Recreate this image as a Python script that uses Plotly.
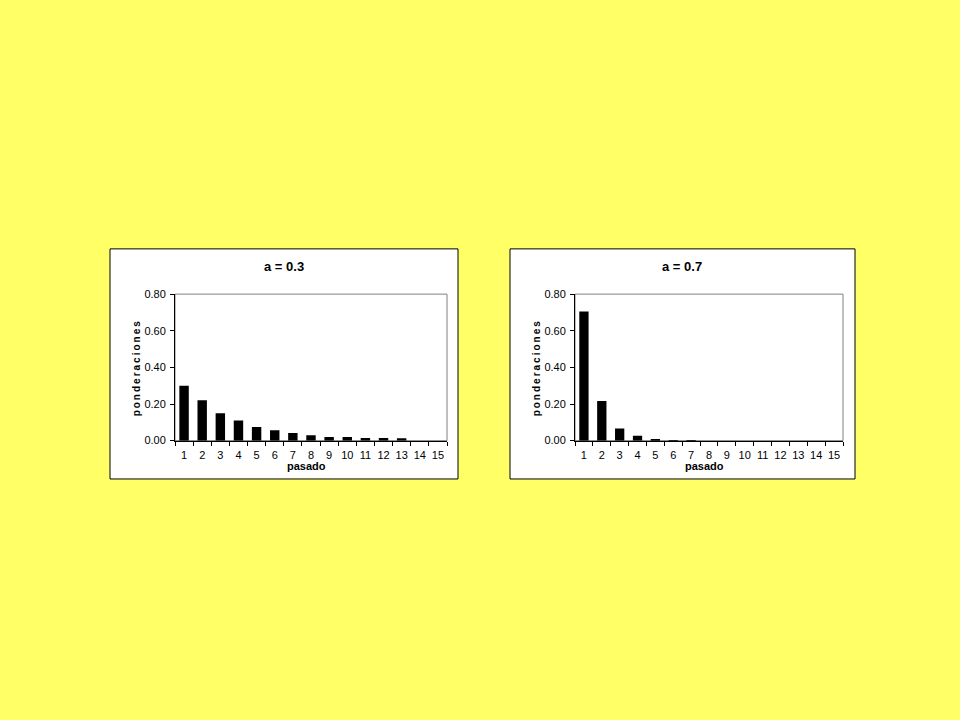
import plotly.graph_objects as go

categories = [str(i) for i in range(1, 16)]
weights_a03 = [0.30, 0.22, 0.15, 0.11, 0.075, 0.057, 0.042, 0.030, 0.020, 0.020, 0.014, 0.014, 0.013, 0.0, 0.0]
weights_a07 = [0.705, 0.216, 0.066, 0.026, 0.006, 0.002, 0.0005, 0.0, 0.0, 0.0, 0.0, 0.0, 0.0, 0.0, 0.0]
titles = ["a = 0.3", "a = 0.7"]
y_ticks = [0.0, 0.2, 0.4, 0.6, 0.8]
x_title = "pasado"
y_title = "ponderaciones"

W, H = 960, 720
def px(x): return x / W
def py(y): return 1 - y / H

FONT = "Liberation Sans, Arial, sans-serif"

fig = go.Figure()

panels = [
    dict(series=weights_a03, title=titles[0], box=(110, 247, 458, 481), plot=(175, 293, 447, 442)),
    dict(series=weights_a07, title=titles[1], box=(510, 247, 855, 481), plot=(575, 293, 843, 442)),
]

shapes = []
annotations = []
for i, p in enumerate(panels):
    xa = "x" if i == 0 else "x2"
    ya = "y" if i == 0 else "y2"
    fig.add_trace(go.Bar(x=categories, y=p["series"], xaxis=xa, yaxis=ya,
                         marker=dict(color="black", line=dict(width=0)),
                         width=0.52, showlegend=False, hoverinfo="x+y"))
    bx0, by0, bx1, by1 = p["box"]
    x0, y0, x1, y1 = p["plot"]
    shapes.append(dict(type="rect", xref="paper", yref="paper",
                       x0=px(bx0), x1=px(bx1), y0=py(by1), y1=py(by0),
                       fillcolor="white", line=dict(color="black", width=1), layer="below"))
    shapes.append(dict(type="rect", xref="paper", yref="paper",
                       x0=px(x0), x1=px(x1), y0=py(y1), y1=py(y0),
                       fillcolor="rgba(0,0,0,0)", line=dict(color="#808080", width=1), layer="below"))
    axsuffix = "" if i == 0 else "2"
    fig.update_layout(**{
        "xaxis" + axsuffix: dict(domain=[px(x0), px(x1)], type="category", anchor=ya,
                                 tickson="boundaries", ticks="outside", ticklen=4, tickcolor="black",
                                 tickangle=0, ticklabelstandoff=4,
                                 showline=True, linecolor="black", linewidth=1, showgrid=False,
                                 tickfont=dict(family=FONT, size=11, color="black"), zeroline=False,
                                 fixedrange=True),
        "yaxis" + axsuffix: dict(domain=[py(y1), py(y0)], range=[0, 0.8], anchor=xa,
                                 tickvals=y_ticks, tickformat=".2f", ticks="outside", ticklen=4,
                                 tickcolor="black", showline=True, linecolor="black", linewidth=1,
                                 showgrid=False, zeroline=False, ticklabelstandoff=2,
                                 tickfont=dict(family=FONT, size=11, color="black"), fixedrange=True),
    })
    cx = (x0 + x1) / 2
    annotations.append(dict(text="<b>" + p["title"] + "</b>", xref="paper", yref="paper",
                            x=px(cx - 27), y=py(265), showarrow=False,
                            font=dict(family=FONT, size=13, color="black"),
                            xanchor="center", yanchor="middle"))
    annotations.append(dict(text="<b>" + x_title + "</b>", xref="paper", yref="paper",
                            x=px(cx - 5), y=py(468), showarrow=False,
                            font=dict(family=FONT, size=11, color="black"),
                            xanchor="center", yanchor="middle"))
    annotations.append(dict(text="<b>" + "\u2009".join(y_title) + "</b>", xref="paper", yref="paper",
                            x=px(x0 - 39), y=py((y0 + y1) / 2 + 1), showarrow=False, textangle=-90,
                            font=dict(family=FONT, size=10, color="black"),
                            xanchor="center", yanchor="middle"))

fig.update_layout(width=W, height=H, margin=dict(l=0, r=0, t=0, b=0),
                  paper_bgcolor="#FFFF66", plot_bgcolor="white",
                  shapes=shapes, annotations=annotations, bargap=0.5)

fig.write_html("out.html", config={"displayModeBar": False},
               post_script="document.body.style.margin='0';document.body.style.background='#FFFF66';")
